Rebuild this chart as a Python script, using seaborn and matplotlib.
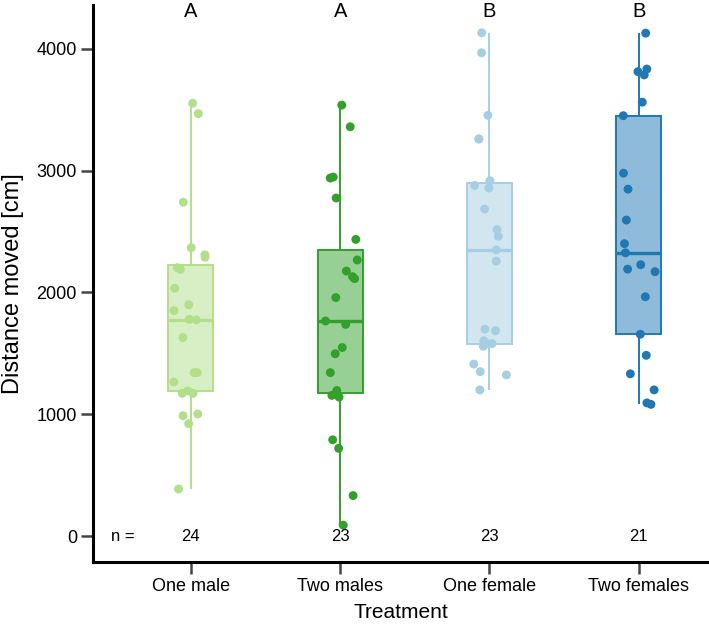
import numpy as np
import pandas as pd
import matplotlib
matplotlib.use("Agg")
import matplotlib.pyplot as plt
from matplotlib.colors import to_rgba
import seaborn as sns

# --- data ---
treatments = ["One male", "Two males", "One female", "Two females"]
colors = ["#b2df8a", "#33a02c", "#a6cee3", "#1f78b4"]
letters = ["A", "A", "B", "B"]

one_male = [3554, 3469, 2742, 2368, 2309, 2289, 2204, 2190, 2035, 1899, 1851, 1780,
            1775, 1630, 1342, 1342, 1265, 1172, 1172, 1192, 988, 1002, 923, 386]
two_males = [3539, 3361, 2948, 2940, 2776, 2436, 2267, 2176, 2114, 2130, 1958, 1766,
             1738, 1548, 1497, 1342, 1195, 1141, 1155, 790, 720, 332, 89]
one_female = [4133, 3969, 3455, 3261, 3261, 2918, 2879, 2858, 2685, 2517, 2461, 2350,
              2258, 1699, 1687, 1603, 1580, 1559, 1580, 1412, 1350, 1323, 1200]
two_females = [4130, 3787, 3835, 3814, 3563, 3452, 2980, 2849, 2595, 2401, 2326, 2228,
               2192, 2171, 1965, 1657, 1484, 1332, 1200, 1081, 1093]

groups = [one_male, two_males, one_female, two_females]
df = pd.DataFrame({
    "Treatment": np.repeat(treatments, [len(g) for g in groups]),
    "Distance": np.concatenate(groups),
})

sns.set_theme(style="ticks")
plt.rcParams["font.family"] = ["Liberation Sans", "DejaVu Sans"]
plt.rcParams["text.color"] = "black"
plt.rcParams["axes.labelcolor"] = "black"
plt.rcParams["xtick.labelcolor"] = "black"
plt.rcParams["ytick.labelcolor"] = "black"

fig = plt.figure(figsize=(7.09, 6.28), dpi=100)
ax = fig.add_axes([0.131, 0.105, 0.869, 0.887])

for t, c in zip(treatments, colors):
    sub = df[df["Treatment"] == t]
    sns.boxplot(data=sub, x="Treatment", y="Distance", order=treatments,
                color=c, linecolor=c, width=0.3, showcaps=False, showfliers=False,
                whis=1.5, linewidth=1.4, medianprops=dict(linewidth=2.4), ax=ax)

# lighten the box fill
for patch, c in zip(ax.patches, colors):
    patch.set_facecolor(to_rgba(c, 0.5))
    patch.set_edgecolor(c)

np.random.seed(3)
sns.stripplot(data=df, x="Treatment", y="Distance", order=treatments,
              hue="Treatment", palette=colors, hue_order=treatments,
              jitter=0.12, size=6.4, linewidth=0, legend=False, zorder=3, ax=ax)

for i, (t, g) in enumerate(zip(letters, groups)):
    ax.text(i, 4304, t, ha="center", va="center", fontsize=14.5)
    ax.text(i, 0, str(len(g)), ha="center", va="center", fontsize=12)
ax.text(-0.455, 0, "n =", ha="center", va="center", fontsize=12)

ax.set_xlim(-0.656, 3.47)
ax.set_ylim(-214, 4361)
ax.set_yticks([0, 1000, 2000, 3000, 4000])
ax.set_xlabel("Treatment", fontsize=15, labelpad=6)
ax.set_ylabel("Distance moved [cm]", fontsize=17, labelpad=9)
ax.tick_params(axis="both", labelsize=13, length=8.5, width=1.8, color="#444444", pad=3)

sns.despine(ax=ax)
for s in ["left", "bottom"]:
    ax.spines[s].set_linewidth(2.2)
    ax.spines[s].set_color("black")

fig.savefig("out.png", dpi=100)
